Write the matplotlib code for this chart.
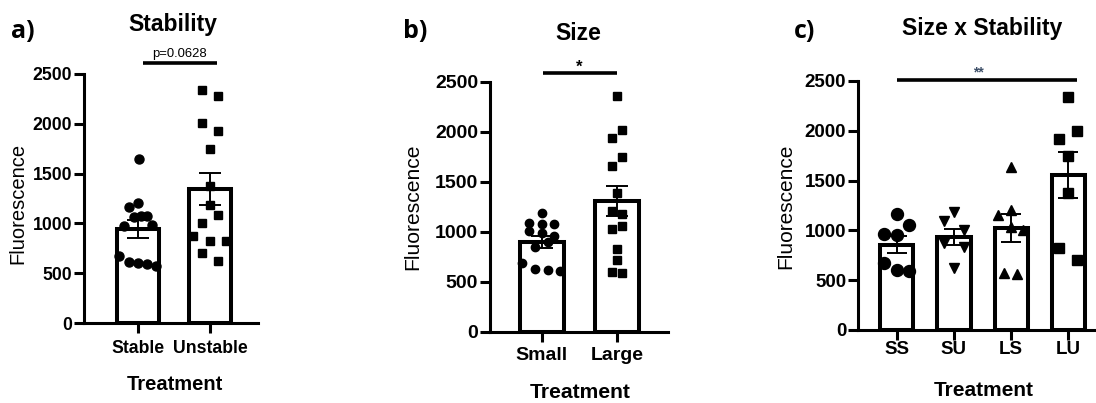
import numpy as np
import matplotlib
matplotlib.use("Agg")
import matplotlib.pyplot as plt

plt.rcParams["font.family"] = ["Liberation Sans", "DejaVu Sans"]

# ---------------- data ----------------
# Panel a: Stability
stab_cats = ["Stable", "Unstable"]
stable_vals = [1650, 1201, 1167, 1076, 1073, 1061, 981, 971, 675, 615, 599, 589, 572]
unstable_vals = [2344, 2280, 2010, 1926, 1742, 1374, 1180, 1080, 1000, 876, 822, 822, 705, 622]

# Panel b: Size
size_cats = ["Small", "Large"]
small_vals = [1190, 1090, 1073, 1077, 1010, 983, 960, 893, 843, 683, 630, 617, 607]
large_vals = [2357, 2017, 1933, 1750, 1660, 1390, 1210, 1177, 1057, 1023, 830, 717, 600, 583]

# Panel c: Size x Stability
combo_cats = ["SS", "SU", "LS", "LU"]
ss_vals = [1160, 1059, 966, 949, 671, 604, 590]
su_vals = [1183, 1093, 1009, 875, 831, 624]
ls_vals = [1641, 1200, 1150, 1032, 1009, 574, 564]
lu_vals = [2344, 2003, 1920, 1742, 1374, 822, 698]

y_ticks = [0, 500, 1000, 1500, 2000, 2500]

# ---------------- horizontal scatter offsets (positions only) ----------------
stable_jit = [0.01, 0.0, -0.125, 0.13, 0.035, -0.06, 0.2, -0.2, -0.26, -0.13, 0.0, 0.13, 0.25]
unstable_jit = [-0.115, 0.107, -0.115, 0.107, 0, 0, 0, 0.107, -0.115, -0.23, 0, 0.22, -0.115, 0.107]
small_jit = [0, -0.167, 0, 0.167, -0.167, 0, 0.167, 0.08, -0.088, -0.265, -0.088, 0.08, 0.24]
large_jit = [0, 0.066, -0.066, 0.066, -0.066, 0, -0.066, 0.066, 0.066, -0.066, 0, 0, -0.066, 0.066]
ss_jit = [0, 0.22, -0.22, 0, -0.22, 0, 0.22]
su_jit = [0, -0.18, 0.175, -0.18, 0.175, 0]
ls_jit = [0, 0, -0.23, 0, 0.215, -0.12, 0.1]
lu_jit = [0, 0.16, -0.17, 0, 0, -0.17, 0.16]

W, H = 1096, 403
fig = plt.figure(figsize=(W / 100, H / 100), dpi=100)


def axes_px(left, right, top, bottom):
    return fig.add_axes([left / W, 1 - bottom / H, (right - left) / W, (bottom - top) / H])


def panel(ax, cats, groups, jits, markers, msizes, xlim, fs_tick, fs_lab,
          capsize, xpad, ylab_xy, xlab_xy):
    for i, (vals, jit, m, ms) in enumerate(zip(groups, jits, markers, msizes)):
        v = np.asarray(vals, float)
        mean = v.mean()
        sem = v.std(ddof=1) / np.sqrt(len(v))
        ax.bar(i, mean, width=0.58, facecolor="white", edgecolor="black",
               linewidth=2.9, zorder=1)
        ax.plot(i + np.asarray(jit), v, ls="none", marker=m, ms=ms,
                color="black", mec="black", zorder=2)
        ax.errorbar(i, mean, yerr=sem, color="black", lw=1.4, capsize=capsize,
                    capthick=1.4, zorder=3)
    ax.set_xlim(*xlim)
    ax.set_ylim(0, 2500)
    ax.set_yticks(y_ticks)
    ax.set_xticks(range(len(cats)))
    ax.set_xticklabels(cats)
    for s in ["top", "right"]:
        ax.spines[s].set_visible(False)
    for s in ["left", "bottom"]:
        ax.spines[s].set_linewidth(2.2)
    ax.tick_params(axis="both", direction="out", length=7, width=2.2,
                   labelsize=fs_tick)
    ax.tick_params(axis="y", pad=1.5)
    ax.tick_params(axis="x", pad=xpad)
    for lab in ax.get_xticklabels() + ax.get_yticklabels():
        lab.set_fontweight("bold")
    ax.set_ylabel("Fluorescence", fontsize=fs_lab)
    ax.set_xlabel("Treatment", fontsize=fs_lab, fontweight="bold")
    ax.yaxis.label.set_va("center")
    ax.xaxis.label.set_va("center")
    ax.yaxis.set_label_coords(*ylab_xy)
    ax.xaxis.set_label_coords(*xlab_xy)


def frac(px, py, left, right, top, bottom):
    return ((px - left) / (right - left), (bottom - py) / (bottom - top))


# ---------- panel a ----------
La, Ra, Ta, Ba = 84, 258, 74, 323
axa = axes_px(La, Ra, Ta, Ba)
panel(axa, stab_cats, [stable_vals, unstable_vals], [stable_jit, unstable_jit],
      ["o", "s"], [6.5, 6.0], (-0.75, 1.667), 12.7, 14.5, 8, 5,
      frac(18, 203, La, Ra, Ta, Ba), frac(175, 385, La, Ra, Ta, Ba))
axa.plot([0.07, 1.1], [2608, 2608], color="black", lw=2.6, clip_on=False,
         solid_capstyle="butt")
axa.text(0.58, 2698, "p=0.0628", ha="center", va="center", fontsize=9.4)

# ---------- panel b ----------
Lb, Rb, Tb, Bb = 490, 668, 81.7, 331.7
axb = axes_px(Lb, Rb, Tb, Bb)
panel(axb, size_cats, [small_vals, large_vals], [small_jit, large_jit],
      ["o", "s"], [6.0, 5.3], (-0.684, 1.67), 14, 15.2, 8, 4,
      frac(413, 206.7, Lb, Rb, Tb, Bb), frac(580, 392.5, Lb, Rb, Tb, Bb))
axb.plot([0.013, 0.99], [2590, 2590], color="black", lw=2.6, clip_on=False,
         solid_capstyle="butt")
axb.text(0.5, 2640, "*", ha="center", va="center", fontsize=12, fontweight="bold")

# ---------- panel c ----------
Lc, Rc, Tc, Bc = 858, 1096, 81, 330
axc = axes_px(Lc, Rc, Tc, Bc)
panel(axc, combo_cats, [ss_vals, su_vals, ls_vals, lu_vals],
      [ss_jit, su_jit, ls_jit, lu_jit], ["o", "v", "^", "s"],
      [8.6, 7.2, 7.2, 7.2], (-0.677, 3.484), 13.5, 15, 7, 1,
      frac(786, 206, Lc, Rc, Tc, Bc), frac(984, 390, Lc, Rc, Tc, Bc))
axc.plot([0, 3.16], [2515, 2515], color="black", lw=2.6, clip_on=False,
         solid_capstyle="butt")
axc.text(1.42, 2590, "**", ha="center", va="center", fontsize=10,
         color="#3d4f68", fontweight="bold")

# ---------- titles and panel letters ----------
fig.text(173 / W, 1 - 24 / H, "Stability", ha="center", va="center",
         fontsize=16.5, fontweight="bold")
fig.text(578.5 / W, 1 - 33 / H, "Size", ha="center", va="center",
         fontsize=16.5, fontweight="bold")
fig.text(981.7 / W, 1 - 29 / H, "Size x Stability", ha="center", va="center",
         fontsize=16.5, fontweight="bold")
for x, y, t in [(23, 32, "a)"), (415, 32, "b)"), (805, 32, "c)")]:
    fig.text(x / W, 1 - y / H, t, ha="center", va="center", fontsize=18,
             fontweight="bold", family=["Open Sans", "DejaVu Sans"])

fig.savefig("out.png", dpi=100)
